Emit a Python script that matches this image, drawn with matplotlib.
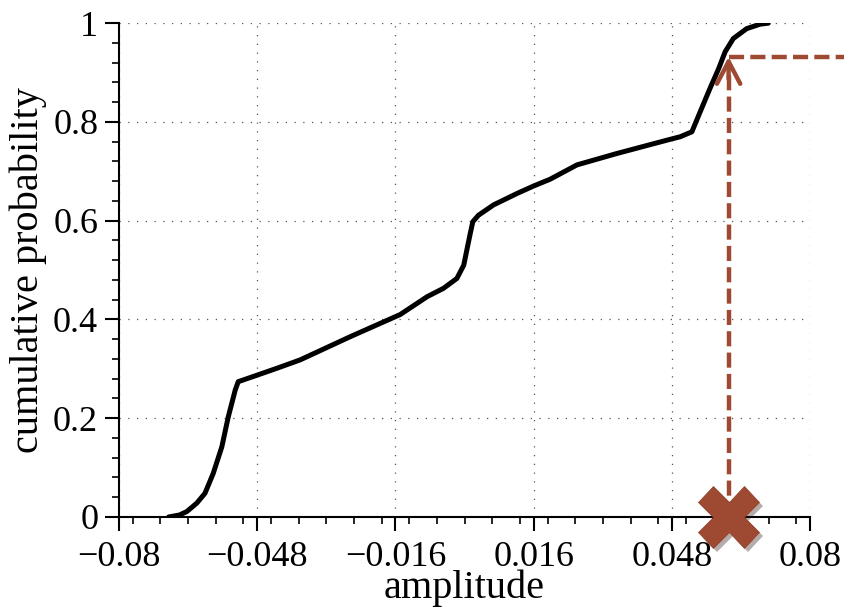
import matplotlib
matplotlib.use("Agg")
from matplotlib import pyplot as plt
from matplotlib import patheffects
from matplotlib.ticker import FixedLocator, FixedFormatter, MultipleLocator
import numpy as np

plt.rcParams['font.family'] = ['Liberation Serif', 'DejaVu Serif']
plt.rcParams['font.size'] = 26

# empirical CDF of the signal amplitude
amp = [-0.0685, -0.0660, -0.0643, -0.0620, -0.0601, -0.0582, -0.0562, -0.0547,
       -0.0531, -0.0524, -0.0481, -0.0435, -0.0381, -0.0265, -0.0149, -0.0087,
       -0.0049, -0.0018, -0.0002, 0.0005, 0.0013, 0.0019, 0.0032, 0.0067,
       0.0121, 0.0159, 0.0198, 0.0260, 0.0352, 0.0468, 0.0499, 0.0526, 0.0545,
       0.0568, 0.0588, 0.0603, 0.0622, 0.0653, 0.0684, 0.0703]
cdf = [0.0, 0.004, 0.011, 0.028, 0.048, 0.088, 0.142, 0.203,
       0.257, 0.274, 0.287, 0.301, 0.318, 0.365, 0.410, 0.446,
       0.463, 0.483, 0.510, 0.540, 0.574, 0.598, 0.611, 0.632,
       0.655, 0.670, 0.684, 0.713, 0.736, 0.763, 0.770, 0.780, 0.820,
       0.868, 0.908, 0.942, 0.969, 0.989, 0.998, 1.0]

# sample value and its probability
x_sample = 0.0611
p_sample = 0.932

xticks = [-0.08, -0.048, -0.016, 0.016, 0.048, 0.08]
xticklabels = ['\u22120.08', '\u22120.048', '\u22120.016', '0.016', '0.048', '0.08']
yticks = [0, 0.2, 0.4, 0.6, 0.8, 1]
yticklabels = ['0', '0.2', '0.4', '0.6', '0.8', '1']

red = '#9e4a32'
dash = (0, (3.4, 1.4))

fig = plt.figure(figsize=(8.44, 6.10), dpi=100)
ax = fig.add_axes([0.141, 0.1525, 0.819, 0.8095])

ax.plot(amp, cdf, color='black', lw=3.6, solid_capstyle='round',
        solid_joinstyle='round', zorder=3)

# dashed read-off lines
ax.plot([x_sample, x_sample], [0.0, p_sample - 0.02], color=red, lw=3.2,
        linestyle=dash, zorder=4)
ax.plot([x_sample, 0.095], [p_sample, p_sample], color=red, lw=3.2,
        linestyle=dash, clip_on=False, zorder=4)
ax.annotate('', xy=(x_sample, p_sample), xytext=(x_sample, p_sample - 0.045),
            arrowprops=dict(arrowstyle='->,head_length=0.8,head_width=0.42',
                            mutation_scale=20, color=red, lw=3.2,
                            shrinkA=0, shrinkB=0),
            zorder=4)

ax.plot([x_sample], [0.0], marker='X', markersize=44, color=red,
        markeredgecolor='#8f3f28', markeredgewidth=0.5, clip_on=False, zorder=5,
        path_effects=[patheffects.SimplePatchShadow(offset=(3, -3), alpha=0.35),
                      patheffects.Normal()])

ax.set_xlim(-0.08, 0.08)
ax.set_ylim(0, 1)

ax.xaxis.set_major_locator(FixedLocator(xticks))
ax.xaxis.set_major_formatter(FixedFormatter(xticklabels))
ax.xaxis.set_minor_locator(MultipleLocator(0.0064))
ax.yaxis.set_major_locator(FixedLocator(yticks))
ax.yaxis.set_major_formatter(FixedFormatter(yticklabels))
ax.yaxis.set_minor_locator(MultipleLocator(0.04))

ax.tick_params(which='major', direction='out', length=10, width=1.5, pad=5)
ax.tick_params(axis='x', which='major', pad=7)
ax.tick_params(which='minor', direction='out', length=5, width=1.2)

for side in ['top', 'right']:
    ax.spines[side].set_visible(False)
for side in ['left', 'bottom']:
    ax.spines[side].set_linewidth(1.5)

ax.grid(True, which='major', color='#555555', lw=0.9, linestyle=(0, (1, 6)))

ax.set_xlabel('amplitude', fontsize=29, labelpad=-3)
ax.set_ylabel('cumulative probability', fontsize=29, labelpad=4)

fig.savefig('out.png', dpi=100)
